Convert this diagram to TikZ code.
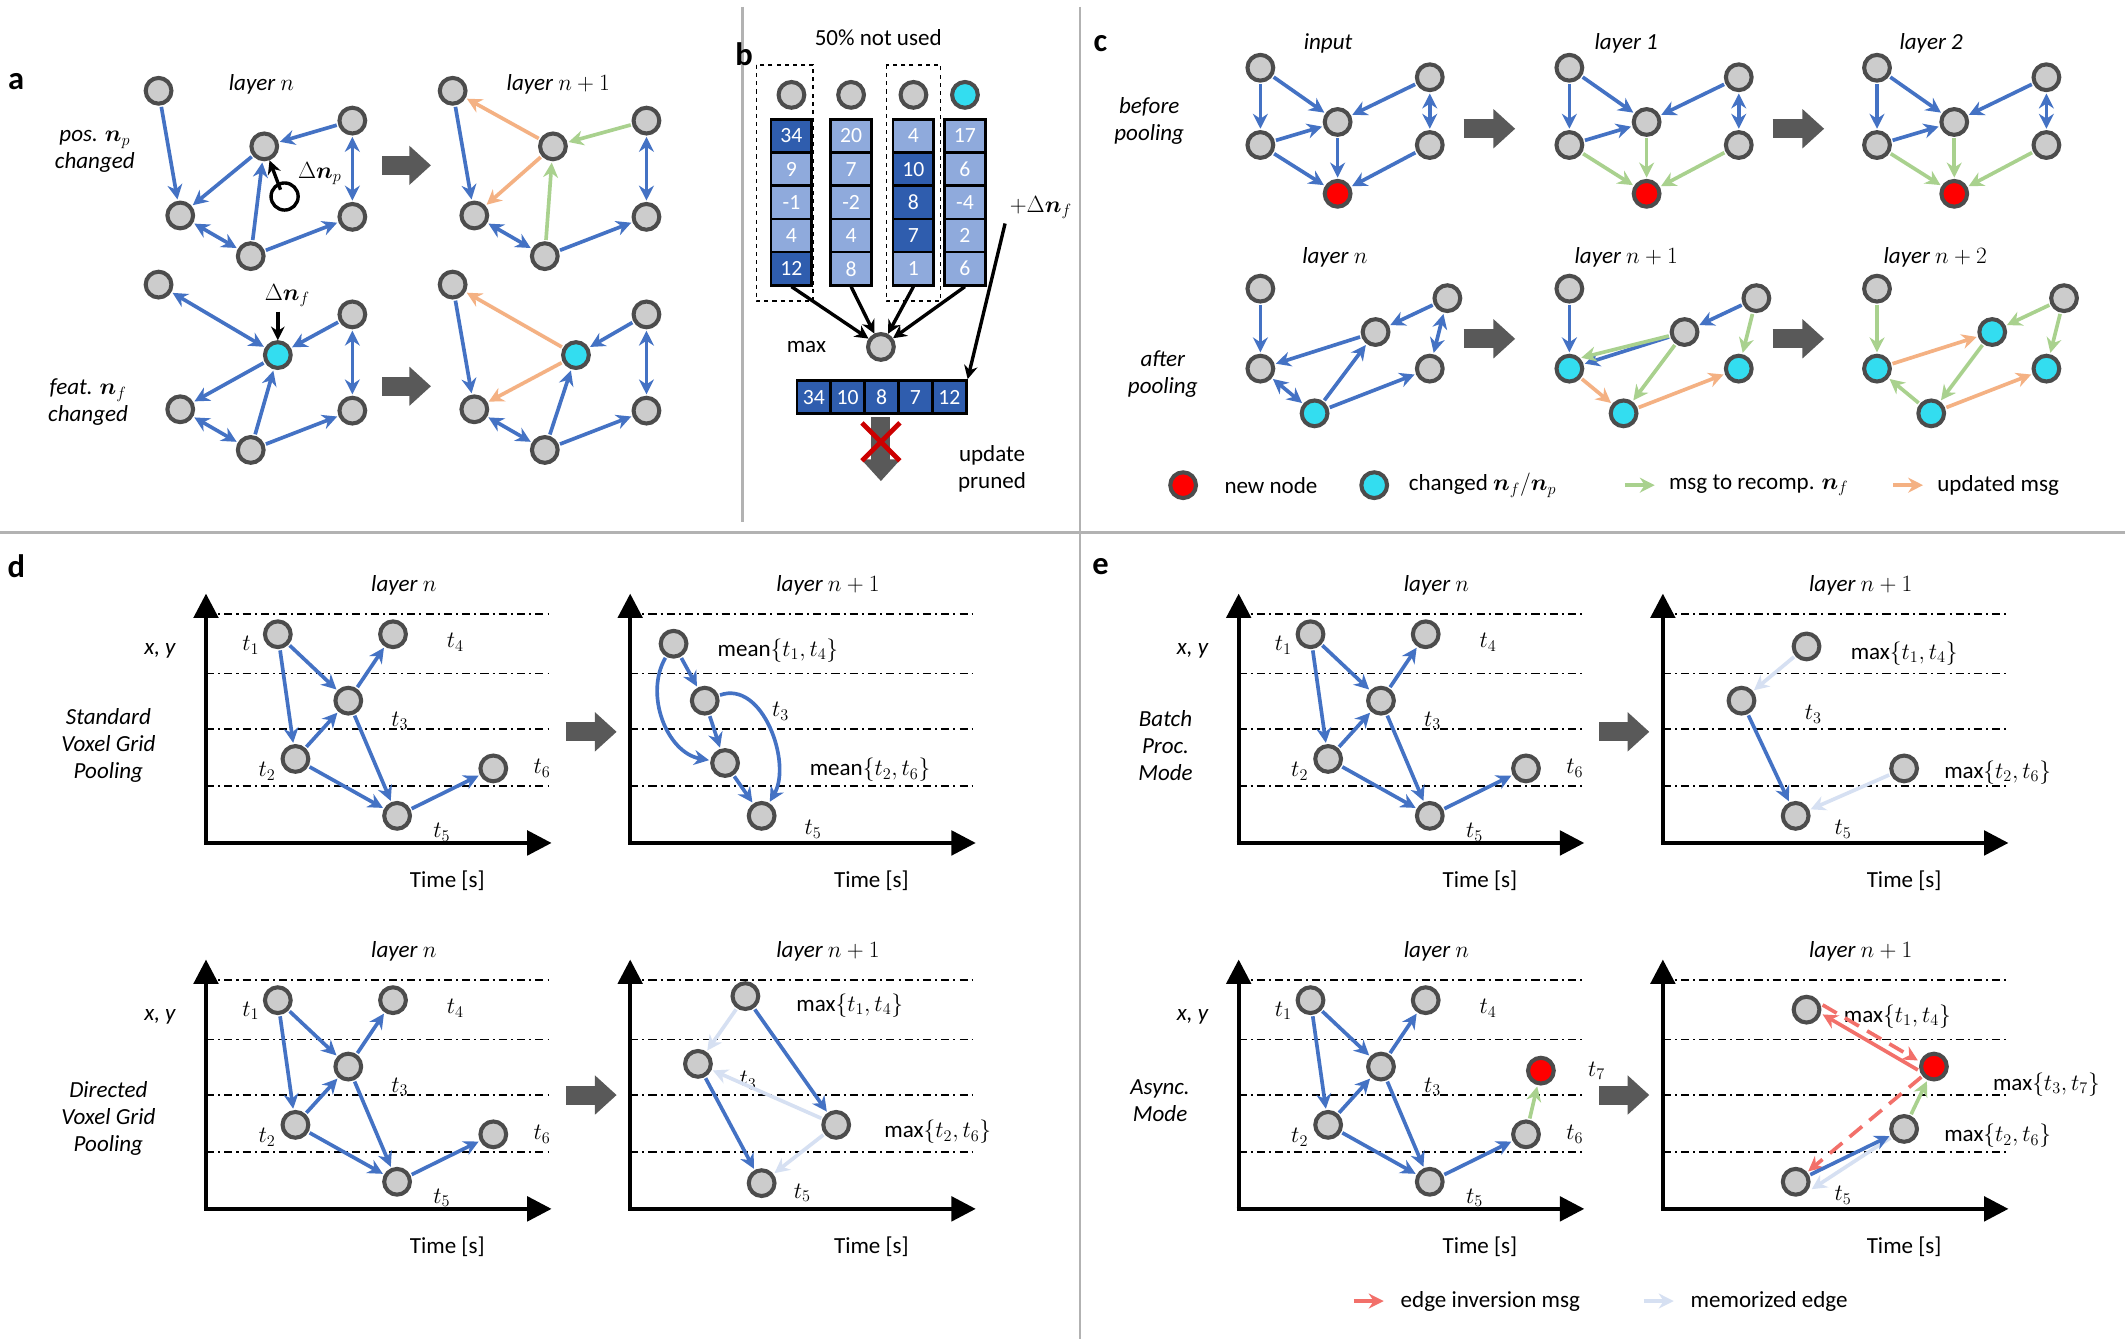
\documentclass[tikz,border=0pt]{standalone}
\usepackage{fontspec}
\setmainfont{Carlito}
\usepackage{amsmath,bm}
\usetikzlibrary{arrows.meta}
\definecolor{eb}{HTML}{4472C4}
\definecolor{eo}{HTML}{F4B183}
\definecolor{eg}{HTML}{A9D18E}
\definecolor{ep}{HTML}{D6E0F2}
\definecolor{er}{HTML}{F2706A}
\definecolor{cdark}{HTML}{2F5DAE}
\definecolor{clight}{HTML}{8FAADC}
\definecolor{ncy}{HTML}{33DDF0}
\tikzset{
 g/.style={circle,fill=gray!40,draw=black!70,line width=3pt,minimum size=19pt,inner sep=0pt},
 gc/.style={g,fill=ncy}, gr/.style={g,fill=red},
 e/.style={line width=2.7pt,eb,-{Stealth[length=11pt,width=11pt]},shorten <=1pt,shorten >=1pt},
 ee/.style={e,{Stealth[length=11pt,width=11pt]}-{Stealth[length=11pt,width=11pt]}},
 o/.style={e,eo}, gn/.style={e,eg}, pl/.style={e,ep}, rd/.style={e,er},
 big/.style={line width=14pt,gray!70!black,-{Triangle[length=16pt,width=28pt]}},
 lab/.style={font=\fontsize{17}{20}\selectfont},
 ital/.style={font=\fontsize{17}{20}\selectfont\itshape,align=center},
 pan/.style={font=\fontsize{24}{28}\selectfont\bfseries},
 sep/.style={line width=2pt,gray!60},
 dd/.style={dash pattern=on 6pt off 3pt on 1.5pt off 3pt,line width=1pt},
 cell/.style={draw=black,line width=2pt,minimum width=30pt,minimum height=24.5pt,inner sep=0,text=white,font=\fontsize{16}{18}\selectfont},
}
\newcommand\agraph[5]{% prefix x y Bpos Bstyle
 \begin{scope}[shift={(#2,#3)}]
 \node[g] (#1A) at (0,0) {}; \node[#5] (#1B) at (#4) {};
 \node[g] (#1C) at (143,22) {}; \node[g] (#1D) at (16,92) {};
 \node[g] (#1E) at (68,122) {}; \node[g] (#1F) at (143,93) {};
 \end{scope}}
\newcommand\cgraph[2]{%
 \begin{scope}[shift={(#2,50)}]
 \node[g] (#1a) at (0,0) {}; \node[g] (#1b) at (57,40) {}; \node[g] (#1c) at (125,7) {};
 \node[g] (#1d) at (0,57) {}; \node[gr] (#1e) at (57,93) {}; \node[g] (#1f) at (125,57) {};
 \end{scope}}
\newcommand\mgraph[8]{% prefix x styles m1..m6
 \begin{scope}[shift={(#2,213)}]
 \node[#3] (#1a) at (0,0) {}; \node[#4] (#1b) at (138,7) {}; \node[#5] (#1c) at (85,32) {};
 \node[#6] (#1d) at (0,59) {}; \node[#7] (#1e) at (40,92) {}; \node[#8] (#1f) at (125,59) {};
 \end{scope}}
\newcommand\axes[4]{% prefix x y title
 \begin{scope}[shift={(#2,#3)}]
 \foreach \yy in {13,57,98,140} \draw[dd] (0,\yy) -- (253,\yy);
 \draw[line width=3pt,-{Triangle[length=18pt,width=18pt]}] (0,182) -- (0,-2);
 \draw[line width=3pt,-{Triangle[length=18pt,width=18pt]}] (-1.5,182) -- (255,182);
 \node[lab] at (178,210) {Time [s]};
 \node[ital] at (146,-8) {#4};
 \end{scope}}
\newcommand\stdg[3]{% prefix x y
 \begin{scope}[shift={(#2,#3)}]
 \node[g] (#1t1) at (53,28) {}; \node[g] (#1t4) at (138,28) {};
 \node[g] (#1t3) at (105,77) {}; \node[g] (#1t2) at (66,120) {};
 \node[g] (#1t6) at (212,127) {}; \node[g] (#1t5) at (141,162) {};
 \node[lab] at (33,36) {$t_1$}; \node[lab] at (184,34) {$t_4$};
 \node[lab] at (143,92) {$t_3$}; \node[lab] at (45,129) {$t_2$};
 \node[lab] at (248,127) {$t_6$}; \node[lab] at (174,174) {$t_5$};
 \node[ital] at (-34,40) {x, y};
 \end{scope}
 \draw[e] (#1t1) -- (#1t3); \draw[e] (#1t1) -- (#1t2); \draw[e] (#1t2) -- (#1t3);
 \draw[e] (#1t3) -- (#1t4); \draw[e] (#1t2) -- (#1t5); \draw[e] (#1t3) -- (#1t5);
 \draw[e] (#1t5) -- (#1t6);}
\begin{document}
\begin{tikzpicture}[x=1pt,y=-1pt]
\path[use as bounding box,fill=white] (0,0) rectangle (1568,988);
% separators
\draw[sep] (0,393) -- (1568,393);
\draw[sep] (548,5) -- (548,385);
\draw[sep] (797,5) -- (797,988);
% ================= a
\node[pan] at (12,60) {a};
\node[ital] at (193,62) {layer $n$};
\node[ital] at (412,62) {layer $n+1$};
\node[ital] at (70,112) {pos. $\bm{n}_p$\\changed};
\node[ital] at (65,297) {feat. $\bm{n}_f$\\changed};
\agraph{p}{117}{67}{78,41}{g}
\agraph{q}{334}{67}{74,41}{g}
\agraph{r}{117}{210}{88,52}{gc}
\agraph{s}{334}{210}{91,52}{gc}
\draw[e] (pA) -- (pD); \draw[e] (pC) -- (pB); \draw[e] (pB) -- (pD); \draw[ee] (pD) -- (pE);
\draw[e] (pE) -- (pB); \draw[e] (pE) -- (pF); \draw[ee] (pC) -- (pF);
\draw[line width=2.5pt] (210,145) circle (10);
\draw[line width=2.5pt,-{Stealth[length=10pt,width=10pt]}] (207,140) -- (pB);
\node[lab] at (236,128) {$\Delta\bm{n}_p$};
\draw[e] (qA) -- (qD); \draw[o] (qB) -- (qA); \draw[gn] (qC) -- (qB); \draw[gn] (qE) -- (qB);
\draw[o] (qB) -- (qD); \draw[ee] (qD) -- (qE); \draw[e] (qE) -- (qF); \draw[ee] (qC) -- (qF);
\draw[ee] (rA) -- (rB); \draw[e] (rC) -- (rB); \draw[e] (rB) -- (rD); \draw[ee] (rD) -- (rE);
\draw[e] (rE) -- (rB); \draw[e] (rE) -- (rF); \draw[ee] (rC) -- (rF);
\draw[line width=2.5pt,-{Stealth[length=10pt,width=10pt]}] (205,230) -- (rB);
\node[lab] at (212,218) {$\Delta\bm{n}_f$};
\draw[e] (sA) -- (sD); \draw[o] (sB) -- (sA); \draw[o] (sB) -- (sD); \draw[e] (sC) -- (sB);
\draw[e] (sE) -- (sB); \draw[ee] (sD) -- (sE); \draw[e] (sE) -- (sF); \draw[ee] (sC) -- (sF);
\draw[big] (282,122) -- (318,122);
\draw[big] (282,285) -- (318,285);
% ================= b
\node[pan] at (549,40) {b};
\node[lab] at (648,28) {50\% not used};
\draw[dashed,line width=1pt] (558,48) rectangle (600,222);
\draw[dashed,line width=1pt] (654,48) rectangle (694,222);
\node[g] (b1) at (584,70) {}; \node[g] (b2) at (628,70) {}; \node[g] (b3) at (674,70) {}; \node[gc] (b4) at (712,70) {};
\foreach \c/\x/\vals in {1/584/{34/cdark,9/clight,-1/clight,4/clight,12/cdark},
 2/628/{20/clight,7/clight,-2/clight,4/clight,8/clight},
 3/674/{4/clight,10/cdark,8/cdark,7/cdark,1/clight},
 4/712/{17/clight,6/clight,-4/clight,2/clight,6/clight}}{
 \foreach \v/\col [count=\i] in \vals {
  \node[cell,fill=\col] (c\c\i) at (\x,88+24.5*\i-12.25) {\v};}}
\node[g] (bmax) at (650,256) {};
\node[lab] at (595,256) {max};
\foreach \c in {1,2,3,4} \draw[line width=2.5pt,-{Stealth[length=10pt,width=10pt]}] (c\c5.south) -- (bmax);
\foreach \v [count=\i] in {34,10,8,7,12} \node[cell,fill=cdark,minimum width=25pt] (r\i) at (575.5+25*\i,293) {\v};
\node[lab] (pdf) at (768,153) {$+\Delta\bm{n}_f$};
\draw[line width=2.5pt,-{Stealth[length=10pt,width=10pt]}] (pdf.south west) -- (r5.north east);
\draw[big] (650,308) -- (650,355);
\draw[line width=3.5pt,red!80!black] (636,312) -- (664,340) (664,312) -- (636,340);
\node[lab,align=center] at (732,346) {update\\pruned};
% ================= c
\node[pan] at (812,32) {c};
\node[ital] at (980,32) {input};
\node[ital] at (1200,32) {layer 1};
\node[ital] at (1425,32) {layer 2};
\node[ital] at (848,89) {before\\pooling};
\node[ital] at (858,276) {after\\pooling};
\node[ital] at (985,190) {layer $n$};
\node[ital] at (1200,190) {layer $n+1$};
\node[ital] at (1428,190) {layer $n+2$};
\cgraph{x}{930} \cgraph{y}{1158} \cgraph{z}{1385}
\foreach \p in {x,y,z}{
 \draw[e] (\p a) -- (\p d); \draw[e] (\p a) -- (\p b); \draw[e] (\p c) -- (\p b);
 \draw[e] (\p d) -- (\p b); \draw[ee] (\p c) -- (\p f);}
\draw[e] (xb) -- (xe); \draw[e] (xd) -- (xe); \draw[e] (xf) -- (xe);
\foreach \p in {y,z}{ \draw[gn] (\p b) -- (\p e); \draw[gn] (\p d) -- (\p e); \draw[gn] (\p f) -- (\p e);}
\draw[big] (1080,95) -- (1118,95);
\draw[big] (1308,95) -- (1346,95);
\mgraph{u}{930}{g}{g}{g}{g}{gc}{g}
\mgraph{v}{1158}{g}{g}{g}{gc}{gc}{gc}
\mgraph{w}{1385}{g}{g}{gc}{gc}{gc}{gc}
\draw[e] (ua) -- (ud); \draw[e] (ub) -- (uc); \draw[e] (uc) -- (ud); \draw[ee] (ud) -- (ue);
\draw[e] (ue) -- (uc); \draw[e] (ue) -- (uf); \draw[ee] (ub) -- (uf);
\draw[e] (va) -- (vd); \draw[e] (vb) -- (vc); \draw[e] (vc) -- (vd); \draw[o] (vd) -- (ve);
\draw[gn] (vc) -- (ve); \draw[o] (ve) -- (vf); \draw[gn] (vc) -- (vd.north east); \draw[gn] (vb) -- (vf);
\draw[gn] (wa) -- (wd); \draw[gn] (wb) -- (wc); \draw[o] (wd) -- (wc); \draw[gn] (we) -- (wd);
\draw[gn] (wc) -- (we); \draw[o] (we) -- (wf); \draw[gn] (wb) -- (wf);
\draw[big] (1080,250) -- (1118,250);
\draw[big] (1308,250) -- (1346,250);
\node[gr] (l1) at (873,358) {}; \node[lab,anchor=west] at (900,358) {new node};
\node[gc] (l2) at (1014,358) {}; \node[lab,anchor=west] at (1036,358) {changed $\bm{n}_f/\bm{n}_p$};
\coordinate (l3a) at (1198,358); \coordinate (l3b) at (1222,358);
\draw[gn] (l3a) -- (l3b); \node[lab,anchor=west] at (1228,358) {msg to recomp. $\bm{n}_f$};
\coordinate (l4a) at (1396,358); \coordinate (l4b) at (1420,358);
\draw[o] (l4a) -- (l4b); \node[lab,anchor=west] at (1426,358) {updated msg};
% ================= d
\node[pan] at (12,418) {d};
\axes{dA}{152}{440}{layer $n$} \stdg{dA}{152}{440}
\node[ital] at (80,550) {Standard\\Voxel Grid\\Pooling};
\axes{dC}{152}{710}{layer $n$} \stdg{dC}{152}{710}
\node[ital] at (80,825) {Directed\\Voxel Grid\\Pooling};
\draw[big] (418,540) -- (455,540);
\draw[big] (418,808) -- (455,808);
\axes{dB}{465}{440}{layer $n+1$}
\node[g] (db1) at (497,475) {}; \node[g] (db3) at (520,517) {}; \node[g] (db2) at (535,563) {}; \node[g] (db5) at (562,602) {};
\node[lab] at (574,480) {mean$\{t_1,t_4\}$}; \node[lab] at (576,525) {$t_3$};
\node[lab] at (642,568) {mean$\{t_2,t_6\}$}; \node[lab] at (600,612) {$t_5$};
\draw[e] (db1) -- (db3); \draw[e] (db3) -- (db2); \draw[e] (db2) -- (db5);
\draw[e] (db1) to[out=-120,in=170] (db2); \draw[e] (db3) to[out=20,in=60] (db5);
\axes{dD}{465}{710}{layer $n+1$}
\node[g] (dd1) at (550,735) {}; \node[g] (dd3) at (515,785) {}; \node[g] (dd6) at (617,830) {}; \node[g] (dd5) at (562,873) {};
\node[lab] at (627,742) {max$\{t_1,t_4\}$}; \node[lab] at (552,797) {$t_3$};
\node[lab] at (692,835) {max$\{t_2,t_6\}$}; \node[lab] at (592,880) {$t_5$};
\draw[pl] (dd1) -- (dd3); \draw[e] (dd1) -- (dd6); \draw[e] (dd3) -- (dd5);
\draw[pl] (dd6) -- (dd3); \draw[pl] (dd6) -- (dd5);
% ================= e
\node[pan] at (812,418) {e};
\axes{eA}{914}{440}{layer $n$} \stdg{eA}{914}{440}
\node[ital] at (860,550) {Batch\\Proc.\\Mode};
\axes{eC}{914}{710}{layer $n$} \stdg{eC}{914}{710}
\node[ital] at (856,812) {Async.\\Mode};
\node[gr] (et7) at (1137,790) {}; \node[lab] at (1178,790) {$t_7$};
\draw[gn] (eCt6) -- (et7);
\draw[big] (1180,540) -- (1217,540);
\draw[big] (1180,808) -- (1217,808);
\axes{eB}{1227}{440}{layer $n+1$}
\node[g] (eb1) at (1333,477) {}; \node[g] (eb3) at (1285,517) {}; \node[g] (eb6) at (1405,567) {}; \node[g] (eb5) at (1325,602) {};
\node[lab] at (1405,482) {max$\{t_1,t_4\}$}; \node[lab] at (1338,527) {$t_3$};
\node[lab] at (1474,570) {max$\{t_2,t_6\}$}; \node[lab] at (1360,612) {$t_5$};
\draw[pl] (eb1) -- (eb3); \draw[e] (eb3) -- (eb5); \draw[pl] (eb6) -- (eb5);
\axes{eD}{1227}{710}{layer $n+1$}
\node[g] (ed1) at (1333,745) {}; \node[gr] (ed7) at (1427,787) {}; \node[g] (ed6) at (1405,833) {}; \node[g] (ed5) at (1325,872) {};
\node[lab] at (1400,750) {max$\{t_1,t_4\}$}; \node[lab] at (1510,800) {max$\{t_3,t_7\}$};
\node[lab] at (1474,838) {max$\{t_2,t_6\}$}; \node[lab] at (1360,882) {$t_5$};
\draw[rd] ([yshift=-3pt]ed7.west) -- ([yshift=-3pt]ed1.east);
\draw[rd,dash pattern=on 12pt off 7pt] ([yshift=4pt]ed1.east) -- ([yshift=4pt]ed7.west);
\draw[rd,dash pattern=on 12pt off 7pt] (ed7) -- (ed5);
\draw[pl] (ed6) -- ([yshift=-6pt]ed5.east);
\draw[e] (ed5) -- (ed6); \draw[gn] (ed6) -- (ed7);
\coordinate (la) at (998,960); \coordinate (lb) at (1022,960);
\draw[rd] (la) -- (lb); \node[lab,anchor=west] at (1030,960) {edge inversion msg};
\coordinate (lc) at (1212,960); \coordinate (ld) at (1236,960);
\draw[pl] (lc) -- (ld); \node[lab,anchor=west] at (1244,960) {memorized edge};
\end{tikzpicture}
\end{document}
